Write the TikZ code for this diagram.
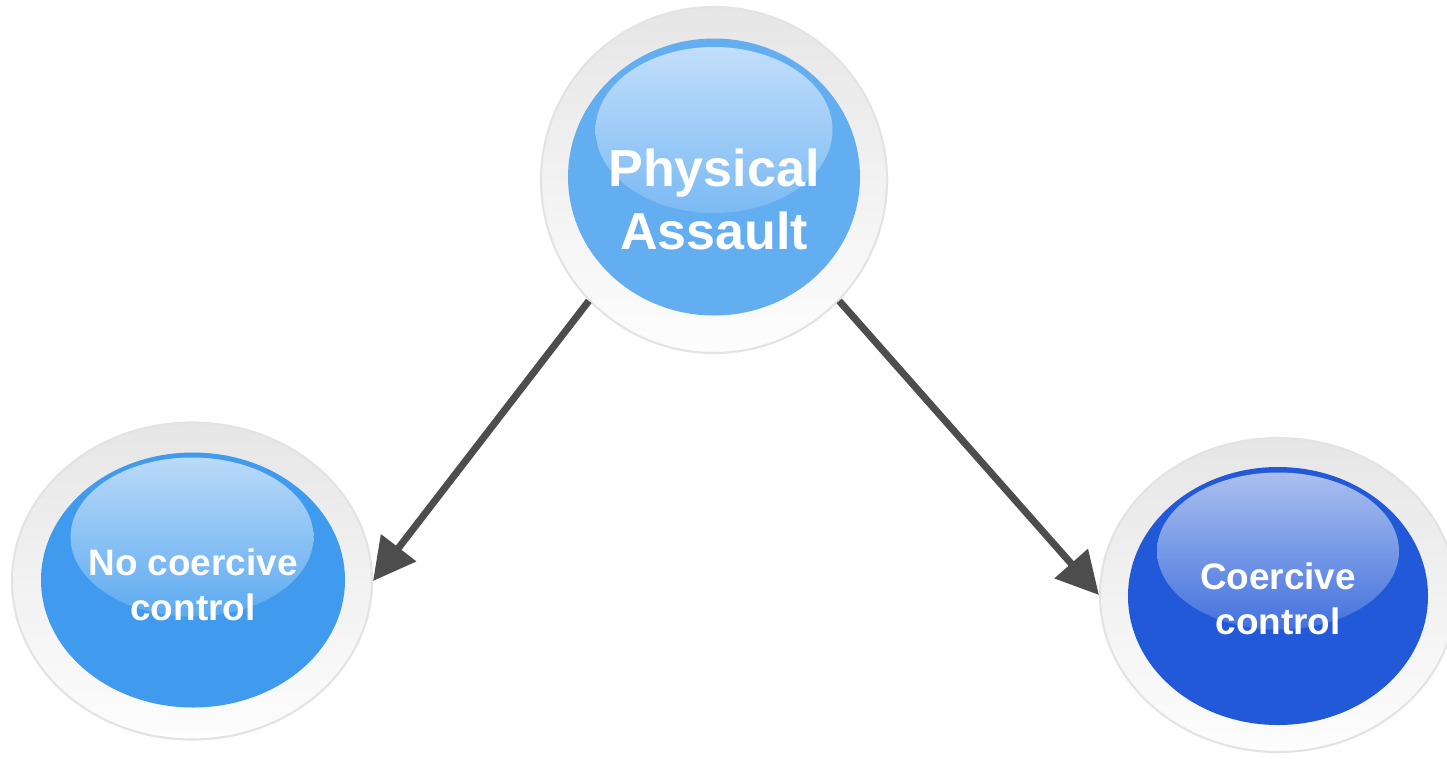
\documentclass[tikz,border=0pt]{standalone}
\usepackage{fontspec}
\setmainfont{Liberation Sans}
\usetikzlibrary{shapes.geometric,arrows.meta}
\definecolor{ringtop}{HTML}{E6E6E6}
\definecolor{ringbot}{HTML}{FDFDFD}
\definecolor{ringedge}{HTML}{E3E3E3}
\definecolor{skyblue}{HTML}{63AEF1}
\definecolor{skyhl}{HTML}{C2DEFA}
\definecolor{midblue}{HTML}{409BEE}
\definecolor{midhl}{HTML}{BADAF8}
\definecolor{deepblue}{HTML}{2259D8}
\definecolor{deephl}{HTML}{AABFEE}
\definecolor{arrowgray}{HTML}{4D4D4D}
\begin{document}
\begin{tikzpicture}[x=0.1mm,y=-0.1mm,
  ring/.style={ellipse, inner sep=0pt, draw=ringedge, line width=0.6pt,
    top color=ringtop, bottom color=ringbot},
  disc/.style={ellipse, inner sep=0pt, fill=#1},
  gloss/.style 2 args={ellipse, inner sep=0pt, top color=#1, bottom color=#2},
  lbl/.style={inner sep=0pt, align=center, text=white},
  bigtext/.style={font=\bfseries\fontsize{14.8}{17.9}\selectfont},
  smalltext/.style={font=\bfseries\fontsize{10.5}{12.8}\selectfont},
  link/.style={draw=arrowgray, line width=2pt,
    -{Triangle[length=4.2mm,width=4.3mm]}}
]
\useasboundingbox (0,0) rectangle (1447,758);

% Physical Assault
\node[ring, minimum width=34.6mm, minimum height=34.6mm] (pa) at (714,180) {};
\node[disc=skyblue, minimum width=29.2mm, minimum height=27.7mm] (padisc) at (714,177) {};
\node[gloss={skyhl}{skyblue!85!white}, minimum width=23.7mm, minimum height=16.6mm] (pagloss) at (714,130) {};
\node[lbl, bigtext] (patext) at (714,199) {Physical\\Assault};

% No coercive control
\node[ring, minimum width=36.0mm, minimum height=31.7mm] (ncc) at (192,581) {};
\node[disc=midblue, minimum width=30.4mm, minimum height=25.5mm] (nccdisc) at (193,580) {};
\node[gloss={midhl}{midblue!85!white}, minimum width=24.3mm, minimum height=15.9mm] (nccgloss) at (192,537) {};
\node[lbl, smalltext] (ncctext) at (193,585) {No coercive\\control};

% Coercive control
\node[ring, minimum width=35.6mm, minimum height=31.4mm] (cc) at (1278,595) {};
\node[disc=deepblue, minimum width=30.0mm, minimum height=25.8mm] (ccdisc) at (1278,596) {};
\node[gloss={deephl}{deepblue!85!white}, minimum width=24.2mm, minimum height=15.7mm] (ccgloss) at (1278,551) {};
\node[lbl, smalltext] (cctext) at (1278,599) {Coercive\\control};

% connectors
\draw[link] (pa.224.5) -- (ncc.east);
\draw[link] (pa.-44.5) -- (cc.west);
\end{tikzpicture}
\end{document}
